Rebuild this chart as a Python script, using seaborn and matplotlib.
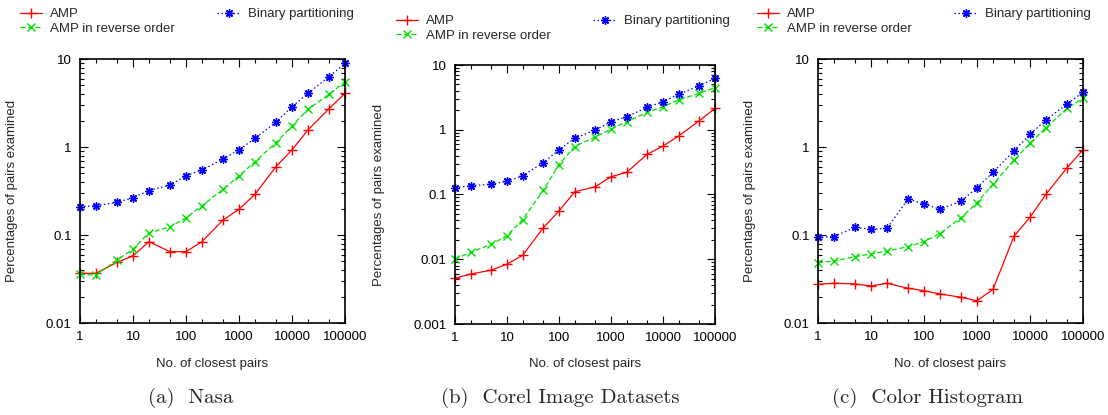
import matplotlib
matplotlib.use("Agg")
import matplotlib.pyplot as plt
import seaborn as sns
import pandas as pd
from matplotlib.ticker import LogLocator, FuncFormatter, NullFormatter

# number of closest pairs (x axis, shared by all panels)
pairs = [1, 2, 5, 10, 20, 50, 100, 200, 500, 1000, 2000, 5000, 10000, 20000, 50000, 100000]

# (a) Nasa
nasa_amp = [0.0367, 0.0367, 0.049, 0.058, 0.084, 0.0646, 0.0646, 0.084, 0.148, 0.196,
            0.29, 0.60, 0.93, 1.56, 2.72, 4.07]
nasa_rev = [0.0357, 0.035, 0.052, 0.069, 0.106, 0.124, 0.157, 0.215, 0.33, 0.47,
            0.68, 1.12, 1.73, 2.68, 3.97, 5.5]
nasa_bin = [0.21, 0.215, 0.235, 0.265, 0.32, 0.37, 0.47, 0.55, 0.73, 0.93,
            1.25, 1.92, 2.87, 4.07, 6.3, 8.9]

# (b) Corel Image Datasets
corel_amp = [0.0051, 0.0059, 0.0068, 0.0084, 0.0115, 0.0307, 0.0556, 0.11, 0.132, 0.188,
             0.22, 0.42, 0.56, 0.80, 1.38, 2.14]
corel_rev = [0.0100, 0.0128, 0.017, 0.0231, 0.041, 0.117, 0.29, 0.55, 0.78, 1.02,
             1.33, 1.86, 2.27, 2.88, 3.66, 4.47]
corel_bin = [0.127, 0.137, 0.144, 0.16, 0.195, 0.31, 0.49, 0.74, 0.99, 1.33,
             1.59, 2.22, 2.71, 3.52, 4.8, 6.2]

# (c) Color Histogram
color_amp = [0.0275, 0.0283, 0.0278, 0.0263, 0.0283, 0.0248, 0.0233, 0.0214, 0.0196, 0.0179,
             0.0241, 0.097, 0.159, 0.29, 0.58, 0.93]
color_rev = [0.0485, 0.0507, 0.0567, 0.0608, 0.0658, 0.0736, 0.084, 0.104, 0.157, 0.233,
             0.377, 0.71, 1.10, 1.66, 2.75, 3.57]
color_bin = [0.094, 0.096, 0.122, 0.116, 0.119, 0.256, 0.225, 0.196, 0.243, 0.345,
             0.515, 0.91, 1.39, 2.03, 3.08, 4.19]

methods = ["AMP", "AMP in reverse order", "Binary partitioning"]
captions = ["(a)  Nasa", "(b)  Corel Image Datasets", "(c)  Color Histogram"]

sns.set_style("ticks")
plt.rcParams["font.family"] = ["Liberation Sans", "DejaVu Sans"]
plt.rcParams["font.size"] = 9.5

W, H = 1108, 415
fig = plt.figure(figsize=(W / 100, H / 100), dpi=100)

styles = {
    "AMP": dict(color="#ff0000", markeredgecolor="#ff0000", linestyle="-",
                marker="+", markersize=7),
    "AMP in reverse order": dict(color="#00e000", markeredgecolor="#00e000",
                                 linestyle=(0, (4, 2)), marker="x", markersize=6),
    "Binary partitioning": dict(color="#0000ff", markeredgecolor="#0000ff",
                                linestyle=(0, (1.2, 2)), marker=(8, 2, 0), markersize=6),
}

panels = [
    # series, (left, top, right, bottom) px, ylim, legend anchor px, caption x, ylabel x
    ((nasa_amp, nasa_rev, nasa_bin), (80, 59, 345, 323), (0.01, 10), (20, 8), 191, -0.234),
    ((corel_amp, corel_rev, corel_bin), (455, 65, 715, 324), (0.001, 10), (396, 15), 560, -0.27),
    ((color_amp, color_rev, color_bin), (818, 59, 1083, 323), (0.01, 10), (757, 8), 927, -0.234),
]

fmt = FuncFormatter(lambda v, p: f"{v:g}")

for (series, box, ylim, leg, capx, ylx), cap in zip(panels, captions):
    l, t, r, b = box
    ax = fig.add_axes([l / W, 1 - b / H, (r - l) / W, (b - t) / H])
    df = pd.DataFrame({
        "pairs": pairs * 3,
        "pct": series[0] + series[1] + series[2],
        "method": sum([[m] * len(pairs) for m in methods], []),
    })
    for m in methods:
        sns.lineplot(data=df[df["method"] == m], x="pairs", y="pct", ax=ax,
                     errorbar=None, label=m, linewidth=0.9, clip_on=False,
                     markeredgewidth=1.0, **styles[m])
    ax.set(xscale="log", yscale="log", xlim=(1, 100000), ylim=ylim)
    ax.xaxis.set_major_locator(LogLocator(base=10, numticks=10))
    ax.xaxis.set_minor_locator(LogLocator(base=10, subs=(2, 5), numticks=10))
    ax.yaxis.set_major_locator(LogLocator(base=10, numticks=10))
    ax.yaxis.set_minor_locator(LogLocator(base=10, subs=range(2, 10), numticks=10))
    ax.xaxis.set_major_formatter(fmt)
    ax.yaxis.set_major_formatter(fmt)
    ax.xaxis.set_minor_formatter(NullFormatter())
    ax.yaxis.set_minor_formatter(NullFormatter())
    ax.tick_params(which="both", direction="in", top=True, right=True, width=0.8,
                   labelsize=9.5, colors="black")
    ax.tick_params(which="major", length=6, pad=6)
    ax.tick_params(which="minor", length=3)
    for s in ax.spines.values():
        s.set_linewidth(1.2)
        s.set_color("black")
    ax.set_xlabel("No. of closest pairs", fontsize=9.5)
    ax.set_ylabel("Percentages of pairs examined", fontsize=9.5)
    ax.xaxis.set_label_coords(0.5, -0.133)
    ax.yaxis.set_label_coords(ylx, 0.5)
    ax.legend(ncol=2, loc="upper left", bbox_to_anchor=(leg[0] / W, 1 - leg[1] / H),
              bbox_transform=fig.transFigure, frameon=False, borderpad=0,
              borderaxespad=0, handlelength=1.7, handletextpad=0.6,
              columnspacing=3.2, labelspacing=0.2, fontsize=9.5)
    fig.text(capx / W, 1 - 398 / H, cap, ha="center", va="center",
             fontfamily="cmr10", fontsize=15)

fig.savefig("out.png", dpi=100, facecolor="white")
